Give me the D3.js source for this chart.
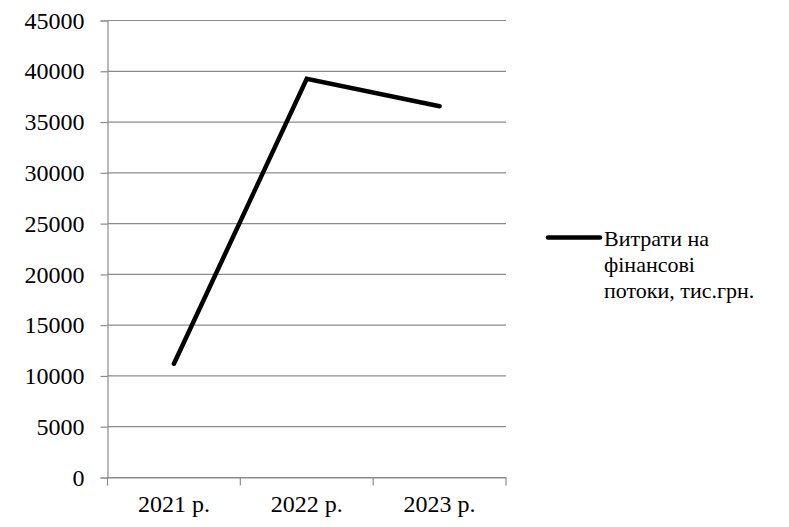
<!DOCTYPE html>
<html><head><meta charset="utf-8">
<script src="https://cdn.jsdelivr.net/npm/d3@7/dist/d3.min.js"></script>
<style>body{margin:0;background:#fff}svg{display:block}</style>
</head><body><svg id="c" width="789" height="527"></svg>
<script>
const categories = ["2021 р.", "2022 р.", "2023 р."];
const values = [11200, 39250, 36550];
const yTicks = [0, 5000, 10000, 15000, 20000, 25000, 30000, 35000, 40000, 45000];
const seriesName = ["Витрати на", "фінансові", "потоки, тис.грн."];

const svg = d3.select("#c");
const FONT = '"Liberation Serif", "Times New Roman", serif';
const mLeft = 107.5, mRight = 506, mTop = 20.5, mBottom = 477.5;
const x = d3.scaleBand().domain(categories).range([mLeft, mRight]);
const y = d3.scaleLinear().domain([0, 45000]).range([mBottom, mTop]);

// gridlines
svg.append("g").selectAll("line").data(yTicks).join("line")
  .attr("x1", mLeft).attr("x2", mRight)
  .attr("y1", d => y(d)).attr("y2", d => y(d))
  .attr("stroke", "#8c8c8c").attr("stroke-width", 1.2);

const yAxis = svg.append("g").attr("transform", `translate(${mLeft},0)`)
  .call(d3.axisLeft(y).tickValues(yTicks).tickSize(7).tickPadding(16).tickFormat(d3.format("d")));
yAxis.attr("font-family", FONT).attr("font-size", 24);
yAxis.select(".domain").attr("stroke", "#8c8c8c").attr("stroke-width", 1.2);
yAxis.selectAll(".tick line").attr("stroke", "#8c8c8c").attr("stroke-width", 1.2);
yAxis.selectAll("text").style("font-family", FONT).style("font-size", "24px").attr("fill", "#000");

const xAxis = svg.append("g").attr("transform", `translate(0,${mBottom})`)
  .call(d3.axisBottom(x).tickSize(0).tickPadding(17));
xAxis.attr("font-family", FONT).attr("font-size", 24);
xAxis.select(".domain").attr("stroke", "#8c8c8c").attr("stroke-width", 1.2);
xAxis.selectAll("text").style("font-family", FONT).style("font-size", "24px").attr("fill", "#000");
// category boundary ticks
const bounds = categories.map(c => x(c)).concat([x(categories[categories.length-1]) + x.bandwidth()]);
svg.append("g").selectAll("line").data(bounds).join("line")
  .attr("x1", d => d).attr("x2", d => d).attr("y1", mBottom).attr("y2", mBottom + 8)
  .attr("stroke", "#8c8c8c").attr("stroke-width", 1.2);

// line
const line = d3.line().x((d, i) => x(categories[i]) + x.bandwidth() / 2).y(d => y(d));
svg.append("path").datum(values).attr("d", line)
  .attr("fill", "none").attr("stroke", "#000").attr("stroke-width", 4.5)
  .attr("stroke-linecap", "round").attr("stroke-linejoin", "miter");

// legend
svg.append("line").attr("x1", 548).attr("x2", 600).attr("y1", 237.5).attr("y2", 237.5)
  .attr("stroke", "#000").attr("stroke-width", 4.5).attr("stroke-linecap", "round");
svg.append("g").selectAll("text").data(seriesName).join("text")
  .style("font-family", FONT).style("font-size", "22px").attr("fill", "#000")
  .attr("x", 604).attr("y", (d, i) => 246 + i * 26).text(d => d);
</script></body></html>
